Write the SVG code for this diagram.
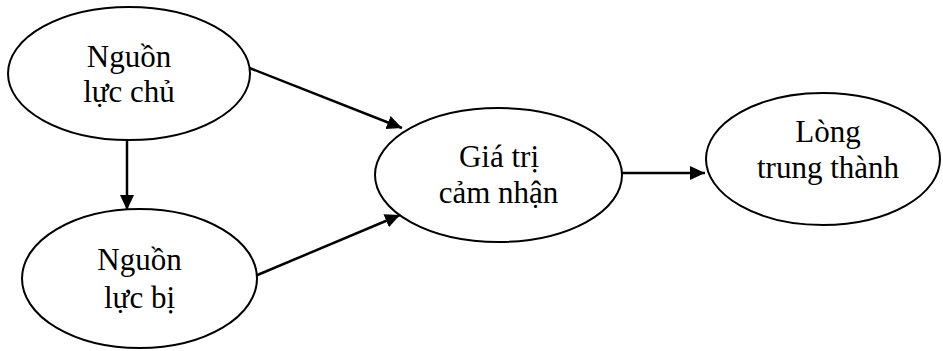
<svg xmlns="http://www.w3.org/2000/svg" width="943" height="351" viewBox="0 0 943 351">
  <style>
    .node ellipse { fill: #ffffff; stroke: #000000; stroke-width: 2; }
    .node text { font-family: "Liberation Serif", "Times New Roman", serif; font-size: 31px; fill: #000000; text-anchor: middle; }
    .edge { stroke: #000000; stroke-width: 2.5; fill: none; marker-end: url(#arrow); }
  </style>
  <defs>
    <marker id="arrow" markerUnits="userSpaceOnUse" markerWidth="16" markerHeight="16" viewBox="0 0 16 16" refX="15" refY="8" orient="auto">
      <path d="M0,1 L15,8 L0,15 Z" fill="#000000"/>
    </marker>
  </defs>
  <rect width="943" height="351" fill="#ffffff"/>

  <!-- connectors -->
  <g id="connectors">
    <line class="edge" x1="127" y1="140" x2="127" y2="210"/>
    <line class="edge" x1="247" y1="67" x2="402" y2="128"/>
    <line class="edge" x1="255" y1="276" x2="400" y2="215"/>
    <line class="edge" x1="622" y1="173" x2="705" y2="173"/>
  </g>

  <!-- nodes -->
  <g id="nguon-luc-chu" class="node">
    <ellipse cx="129" cy="73.5" rx="121" ry="66.5"/>
    <text x="129" y="67">Nguồn</text>
    <text x="129" y="102">lực chủ</text>
  </g>
  <g id="nguon-luc-bi" class="node">
    <ellipse cx="139.5" cy="278.5" rx="117.5" ry="69.5"/>
    <text x="139.5" y="270">Nguồn</text>
    <text x="139.5" y="308">lực bị</text>
  </g>
  <g id="gia-tri-cam-nhan" class="node">
    <ellipse cx="498.5" cy="175" rx="123.5" ry="67"/>
    <text x="499" y="167">Giá trị</text>
    <text x="498.5" y="203">cảm nhận</text>
  </g>
  <g id="long-trung-thanh" class="node">
    <ellipse cx="823" cy="159" rx="117" ry="66"/>
    <text x="828" y="142">Lòng</text>
    <text x="828" y="178">trung thành</text>
  </g>
</svg>
